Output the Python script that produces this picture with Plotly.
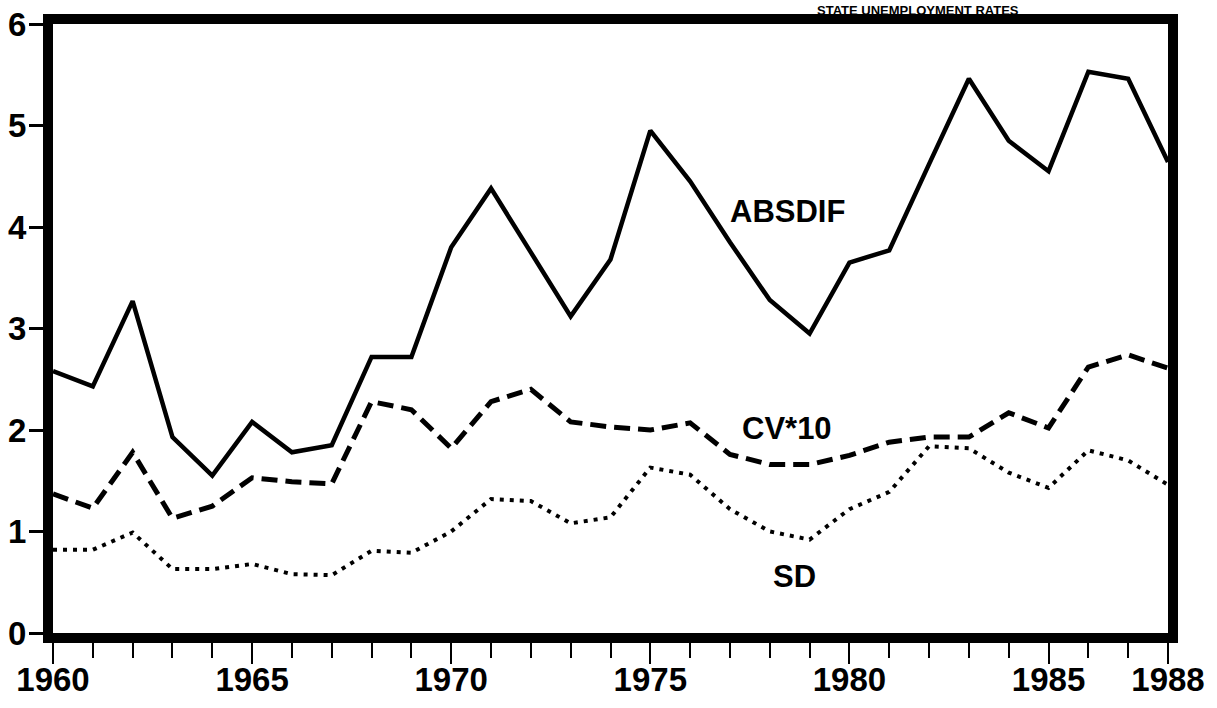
import plotly.graph_objects as go

years = list(range(1960, 1989))

absdif = [2.58, 2.43, 3.27, 1.93, 1.55, 2.08, 1.78, 1.85, 2.72, 2.72,
          3.80, 4.38, 3.75, 3.12, 3.68, 4.95, 4.45, 3.85, 3.28, 2.95,
          3.65, 3.77, 4.62, 5.46, 4.85, 4.55, 5.53, 5.46, 4.64]

cv10 = [1.37, 1.23, 1.78, 1.13, 1.25, 1.53, 1.49, 1.47, 2.28, 2.20,
        1.82, 2.28, 2.40, 2.08, 2.03, 2.00, 2.07, 1.76, 1.66, 1.66,
        1.75, 1.88, 1.93, 1.93, 2.17, 2.02, 2.62, 2.74, 2.61]

sd = [0.82, 0.82, 0.99, 0.63, 0.63, 0.68, 0.58, 0.57, 0.81, 0.79,
      1.00, 1.32, 1.30, 1.08, 1.14, 1.63, 1.56, 1.22, 1.00, 0.92,
      1.22, 1.39, 1.84, 1.82, 1.58, 1.43, 1.80, 1.70, 1.46]

x_tickvals = [1960, 1965, 1970, 1975, 1980, 1985, 1988]
x_ticktext = ["1960", "1965", "1970", "1975", "1980", "1985", "1988"]
y_tickvals = [0, 1, 2, 3, 4, 5, 6]
y_ticktext = ["0", "1", "2", "3", "4", "5", "6"]

series_labels = ["ABSDIF", "CV*10", "SD"]
label_pos = [(1978.45, 4.15), (1978.42, 2.01), (1978.62, 0.56)]
title_text = "STATE UNEMPLOYMENT RATES"

FONT = "Liberation Sans, Arial, sans-serif"

W, H = 1217, 708
ML, MR, MT, MB = 53, 49, 24, 75
plot_w = W - ML - MR
plot_h = H - MT - MB

fig = go.Figure()
fig.add_trace(go.Scatter(x=years, y=absdif, mode="lines",
                         line=dict(color="black", width=4.5), name="ABSDIF"))
fig.add_trace(go.Scatter(x=years, y=cv10, mode="lines",
                         line=dict(color="black", width=5, dash="16px,8px"), name="CV*10"))
fig.add_trace(go.Scatter(x=years, y=sd, mode="lines",
                         line=dict(color="black", width=4, dash="4px,6px"), name="SD"))

for txt, (xx, yy) in zip(series_labels, label_pos):
    fig.add_annotation(x=xx, y=yy, xref="x", yref="y", text="<b>%s</b>" % txt,
                       showarrow=False, font=dict(family=FONT, size=31, color="black"))

fig.add_annotation(x=(918 - ML) / plot_w, xref="paper",
                   y=1 + (MT - 1) / plot_h, yref="paper",
                   text="<b>%s</b>" % title_text,
                   showarrow=False, yanchor="top", xanchor="center",
                   font=dict(family=FONT, size=13, color="black"))

fig.update_layout(
    width=W, height=H,
    margin=dict(l=ML, r=MR, t=MT, b=MB, autoexpand=False),
    paper_bgcolor="white", plot_bgcolor="white",
    showlegend=False,
    font=dict(family=FONT, size=33, color="black"),
)
fig.update_xaxes(
    range=[1960, 1988], showgrid=False, zeroline=False, automargin=False,
    showline=True, mirror=True, linecolor="black", linewidth=10,
    tickmode="array", tickvals=x_tickvals, ticktext=["<b>%s</b>" % t for t in x_ticktext],
    ticks="outside", ticklen=21, tickwidth=2, tickcolor="black",
    minor=dict(dtick=1, tick0=1960, ticks="outside", ticklen=15, tickwidth=2, tickcolor="black"),
    ticklabelstandoff=-13,
    tickfont=dict(family=FONT, size=33, color="black"),
)
fig.update_yaxes(
    range=[0, 6], showgrid=False, zeroline=False, automargin=False,
    showline=True, mirror=True, linecolor="black", linewidth=10,
    tickmode="array", tickvals=y_tickvals, ticktext=["<b>%s</b>" % t for t in y_ticktext],
    ticks="outside", ticklen=14, tickwidth=3, tickcolor="black",
    ticklabelstandoff=-4,
    tickfont=dict(family=FONT, size=33, color="black"),
)

fig.write_html(
    "out.html",
    config={"displayModeBar": False},
    post_script="document.body.style.margin='0';document.body.style.padding='0';"
                "document.documentElement.style.overflow='hidden';",
)
